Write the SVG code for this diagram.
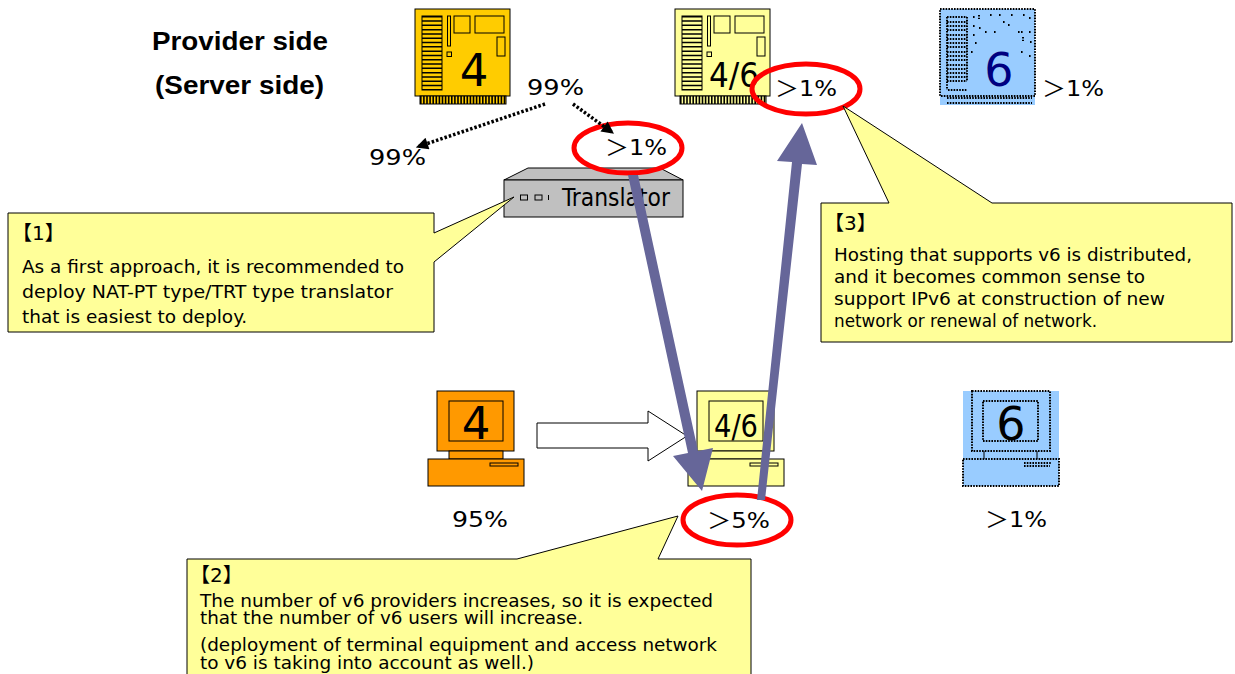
<svg xmlns="http://www.w3.org/2000/svg" width="1235" height="674" viewBox="0 0 1235 674">
<style>
.ln{stroke:#000;stroke-width:1}
.nf{fill:none}
.dot{fill:none;stroke:#000;stroke-width:2;stroke-dasharray:1.6 1.2}
.big{font-family:"DejaVu Sans","Noto Sans CJK JP",sans-serif;fill:#000}
.pct{font-family:"DejaVu Sans","Noto Sans CJK JP",sans-serif;font-size:22px;fill:#000}
.note{font-family:"DejaVu Sans Condensed","DejaVu Sans",sans-serif;font-stretch:condensed;font-size:18px;fill:#000}
.hd{font-family:"DejaVu Sans","Noto Sans CJK JP",sans-serif;font-size:20px;fill:#000}
.ttl{font-family:"Liberation Sans",Arial,sans-serif;font-size:25px;font-weight:bold;fill:#000}
.call{fill:#ffff99;stroke:#000;stroke-width:1}
.ring{fill:none;stroke:#ff0000;stroke-width:5}
.blue{fill:#666699;stroke:none}
.dash{fill:none;stroke:#000;stroke-width:3.5;stroke-dasharray:2.5 2}
</style>
<defs>
<g id="card">
<rect x="0" y="0" width="95" height="87" class="ln"/>
<rect x="5" y="87" width="86" height="8" class="ln"/>
<path d="M5 91H91" fill="none" stroke="#000" stroke-width="8" stroke-dasharray="1.6 1.5"/>
<rect x="7" y="7" width="20" height="74" class="ln"/>
<path d="M17 7V81" fill="none" stroke="#000" stroke-width="20" stroke-dasharray="1.5 2.8"/>
<rect x="32.5" y="7" width="3" height="30" class="ln"/>
<rect x="32" y="43" width="4.500" height="4.500" class="ln"/>
<rect x="39" y="7" width="16" height="17" class="ln"/>
<rect x="60" y="7" width="29" height="17" class="ln"/>
<rect x="82" y="28" width="8" height="19" class="ln"/>
</g>
<g id="pc">
<rect x="9" y="0" width="77" height="60" class="ln"/>
<rect x="21" y="10" width="54" height="40" class="ln"/>
<rect x="21" y="60" width="54" height="8" class="ln"/>
<rect x="0" y="68" width="96" height="27" class="ln"/>
<rect x="62" y="72" width="28" height="3" class="ln"/>
</g>
<marker id="tip" viewBox="0 0 10 10" refX="9" refY="5" markerWidth="4.500" markerHeight="3.500" orient="auto" markerUnits="strokeWidth"><path d="M0 0L10 5L0 10Z" fill="#000"/></marker>
</defs>

<g id="title"><text class="ttl" x="152" y="50" textLength="176" lengthAdjust="spacingAndGlyphs">Provider side</text><text class="ttl" x="155" y="94" textLength="169" lengthAdjust="spacingAndGlyphs">(Server side)</text></g>

<g id="server-v4"><use href="#card" x="415" y="9" fill="#ffcc00"/><text class="big" x="474" y="86" font-size="45" text-anchor="middle">4</text></g>
<g id="server-dual"><use href="#card" x="675" y="9" fill="#ffff99"/><text class="big" x="709" y="87" font-size="34" textLength="50" lengthAdjust="spacingAndGlyphs">4/6</text></g>
<g id="server-v6">
<rect x="940" y="96" width="95" height="9" fill="#99ccff"/>
<rect x="940" y="9" width="95" height="87" class="dot" style="fill:#99ccff"/>
<path class="dot" d="M947 17H967M947 22H967M947 26H967M947 30H967M947 35H967M947 39H967M947 43H967M947 47H967M947 52H967M947 56H967M947 60H967M947 65H967M947 69H967M947 73H967M947 77H967M947 81H967M947 17V90M967 17V81M948 90H967M947 98H1032M947 103H1032"/>
<path class="dot" d="M973 17h2M979 15v4M990 15h2M999 15h2M1011 15h2M1023 15h2M973 26h2M979 28h2M985 32h2M994 32h2M1003 22h2M1008 25h2M1018 32h2M1029 32h2M1021 32h2M1029 18h2M1023 37v4M1030 42h2M973 35h2M975 43h2M971 52h2M1021 52h2M1029 56h2"/>
<text class="big" x="999" y="86" font-size="46" text-anchor="middle" style="fill:#000080">6</text>
</g>
<g id="translator">
<path d="M504 180L528 168H660L683 180Z" fill="#c0c0c0" class="ln"/>
<rect x="504" y="180" width="179" height="37" fill="#c0c0c0" class="ln"/>
<rect x="520.500" y="195" width="7" height="5" fill="#c0c0c0" class="ln"/>
<rect x="535" y="195" width="7" height="5" fill="#c0c0c0" class="ln"/>
<path d="M548.500 195V200" class="ln"/>
<text x="562" y="206" font-family="'DejaVu Sans Condensed','DejaVu Sans',sans-serif" font-stretch="condensed" font-size="25" textLength="108" lengthAdjust="spacingAndGlyphs">Translator</text>
</g>
<g id="pc-v4"><use href="#pc" x="428" y="391" fill="#ff9900"/><text class="big" x="476" y="439" font-size="45" text-anchor="middle">4</text></g>
<g id="pc-dual"><use href="#pc" x="688" y="391" fill="#ffff99"/><text class="big" x="714" y="437" font-size="32" textLength="44" lengthAdjust="spacingAndGlyphs">4/6</text></g>
<g id="pc-v6">
<rect x="963" y="391" width="96" height="95" fill="#99ccff"/>
<rect x="972" y="391" width="78" height="60" class="dot"/>
<rect x="983" y="401" width="55" height="40" class="dot"/>
<path d="M984 451V459M1037 451V459" class="ln"/>
<rect x="963" y="459" width="96" height="27" class="dot"/>
<path d="M1024 463H1052M1024 466H1050" class="dot"/>
<text class="big" x="1011" y="440" font-size="46" text-anchor="middle">6</text>
</g>

<g id="labels">
<text class="pct" x="527" y="95" textLength="57" lengthAdjust="spacingAndGlyphs">99%</text>
<text class="pct" x="369" y="165" textLength="57" lengthAdjust="spacingAndGlyphs">99%</text>
<text class="pct" x="605" y="155" textLength="62" lengthAdjust="spacingAndGlyphs">＞1%</text>
<text class="pct" x="775" y="96" textLength="62" lengthAdjust="spacingAndGlyphs">＞1%</text>
<text class="pct" x="1042" y="96" textLength="62" lengthAdjust="spacingAndGlyphs">＞1%</text>
<text class="pct" x="452" y="527" textLength="56" lengthAdjust="spacingAndGlyphs">95%</text>
<text class="pct" x="707" y="528" textLength="63" lengthAdjust="spacingAndGlyphs">＞5%</text>
<text class="pct" x="985" y="527" textLength="62" lengthAdjust="spacingAndGlyphs">＞1%</text>
</g>

<g id="rings">
<ellipse class="ring" cx="628" cy="148" rx="54" ry="25"/>
<ellipse class="ring" cx="806" cy="89" rx="54" ry="25"/>
<ellipse class="ring" cx="737" cy="520" rx="54" ry="25"/>
</g>

<g id="connectors">
<path class="dash" d="M545 104L417 147" marker-end="url(#tip)"/>
<path class="dash" d="M573 104L613 133" marker-end="url(#tip)"/>
<path d="M537 423H648V411L687 436L648 461V448H537Z" fill="#fff" class="ln"/>
<path class="blue" d="M628 175H638L698 451L713 448L702 491L673 456L688 453Z"/>
<path class="blue" d="M757 500H765L802 164L817 165L802 123L777 161L792 162Z"/>
</g>

<g id="callout-1">
<path class="call" d="M8 213H434V233L514 197L434 262V332H8Z"/>
<text class="hd" x="12" y="240">【1】</text>
<text class="note" x="22" y="273" textLength="382" lengthAdjust="spacingAndGlyphs">As a first approach, it is recommended to</text>
<text class="note" x="22" y="298" textLength="371" lengthAdjust="spacingAndGlyphs">deploy NAT-PT type/TRT type translator</text>
<text class="note" x="22" y="323" textLength="225" lengthAdjust="spacingAndGlyphs">that is easiest to deploy.</text>
</g>
<g id="callout-2">
<path class="call" d="M187 559H517L678 516L658 559H751V680H187Z"/>
<text class="hd" x="190" y="582">【2】</text>
<text class="note" x="200" y="607" textLength="513" lengthAdjust="spacingAndGlyphs">The number of v6 providers increases, so it is expected</text>
<text class="note" x="200" y="624" textLength="383" lengthAdjust="spacingAndGlyphs">that the number of v6 users will increase.</text>
<text class="note" x="200" y="651" textLength="517" lengthAdjust="spacingAndGlyphs">(deployment of terminal equipment and access network</text>
<text class="note" x="200" y="669" textLength="334" lengthAdjust="spacingAndGlyphs">to v6 is taking into account as well.)</text>
</g>
<g id="callout-3">
<path class="call" d="M821 203H889L843 106L992 203H1232V342H821Z"/>
<text class="hd" x="824" y="230">【3】</text>
<text class="note" x="834" y="261" textLength="358" lengthAdjust="spacingAndGlyphs">Hosting that supports v6 is distributed,</text>
<text class="note" x="834" y="283" textLength="311" lengthAdjust="spacingAndGlyphs">and it becomes common sense to</text>
<text class="note" x="834" y="305" textLength="331" lengthAdjust="spacingAndGlyphs">support IPv6 at construction of new</text>
<text class="note" x="834" y="327" textLength="263" lengthAdjust="spacingAndGlyphs">network or renewal of network.</text>
</g>
</svg>
